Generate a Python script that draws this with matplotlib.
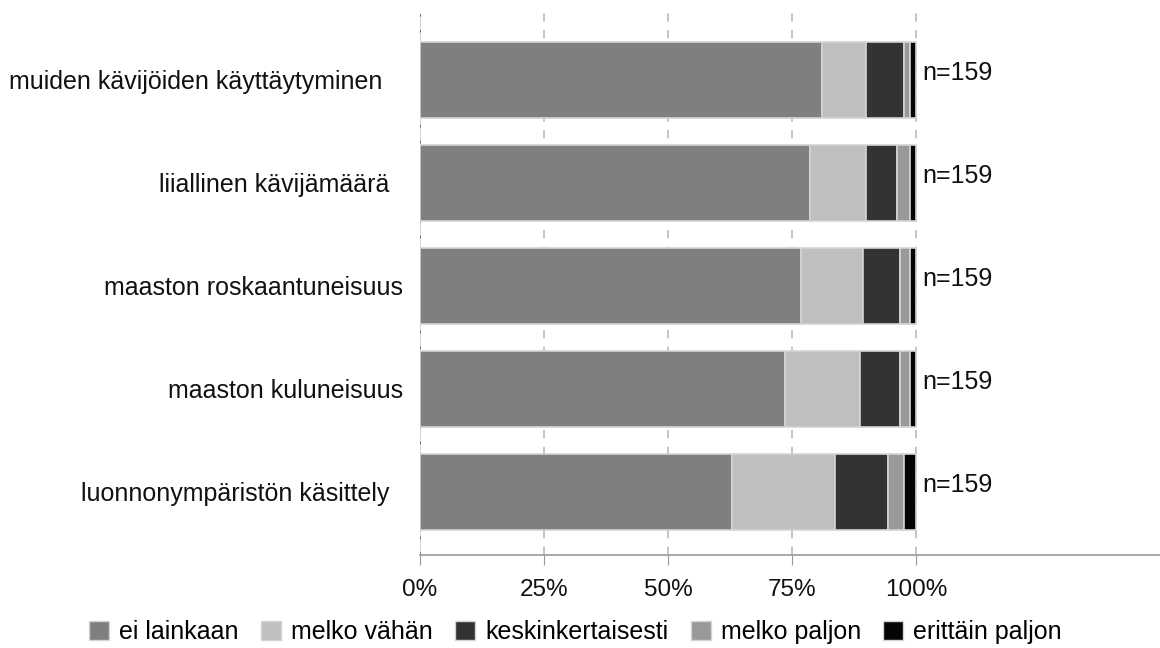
import numpy as np
import matplotlib
matplotlib.use('Agg')
import matplotlib.pyplot as plt
from matplotlib.patches import Patch

plt.rcParams['font.family'] = ['Liberation Sans', 'DejaVu Sans']

categories = ['muiden kävijöiden käyttäytyminen   ',
              'liiallinen kävijämäärä  ',
              'maaston roskaantuneisuus',
              'maaston kuluneisuus',
              'luonnonympäristön käsittely  ']
series = ['ei lainkaan', 'melko vähän', 'keskinkertaisesti', 'melko paljon', 'erittäin paljon']
colors = ['#7f7f7f', '#bfbfbf', '#333333', '#999999', '#050505']

# vastausten lukumäärät (n=159)
ei_lainkaan = [129, 125, 122, 117, 100]
melko_vahan = [14, 18, 20, 24, 33]
keskinkertaisesti = [12, 10, 12, 13, 17]
melko_paljon = [2, 4, 3, 3, 5]
erittain_paljon = [2, 2, 2, 2, 4]
n = [159, 159, 159, 159, 159]

counts = np.array([ei_lainkaan, melko_vahan, keskinkertaisesti, melko_paljon, erittain_paljon], dtype=float)
pct = counts / np.array(n) * 100

fig = plt.figure(figsize=(11.6, 6.48), dpi=100)
ax = fig.add_axes([420/1160, 93/648, 740/1160, 542/648])

y = np.arange(len(categories))
left = np.zeros(len(categories))
for i in range(len(series)):
    ax.barh(y, pct[i], left=left, height=0.74, color=colors[i],
            edgecolor='#d4d4d4', linewidth=1.2, zorder=3)
    left += pct[i]

for yi, ni in zip(y, n):
    ax.text(101.2, yi, 'n=%d' % ni, va='baseline', ha='left', fontsize=18, color='#111111')

ax.set_xlim(0, 149.2)
ax.set_ylim(4.616, -0.651)
ax.set_xticks([0, 25, 50, 75, 100])
ax.set_xticklabels(['0%', '25%', '50%', '75%', '100%'], fontsize=17.5, color='#111111')
ax.set_yticks(y)
ax.set_yticklabels(categories, fontsize=18, color='#111111')
ax.tick_params(axis='y', length=0, pad=12)
ax.tick_params(axis='x', length=7, color='#999999', pad=10)

for s in ['top', 'right', 'left']:
    ax.spines[s].set_visible(False)
ax.spines['bottom'].set_color('#999999')
ax.spines['bottom'].set_linewidth(1.2)

for xv in [25, 50, 75, 100]:
    ax.axvline(xv, color='#bbbbbb', linestyle=(0, (5, 5)), linewidth=1.2, zorder=1)
ax.axvline(0, color='#cccccc', linewidth=1.2, zorder=1)
ax.axvline(0, color='#555555', linestyle=(0, (1.5, 8)), linewidth=1.2, zorder=2)

handles = [Patch(facecolor=c, edgecolor='#d4d4d4', linewidth=1) for c in colors]
fig.legend(handles, series, loc='lower center', bbox_to_anchor=(0.496, 0.006), ncol=5,
           frameon=False, fontsize=18, handlelength=0.8, handleheight=0.8,
           handletextpad=0.4, columnspacing=0.9, borderaxespad=0, borderpad=0)

fig.savefig('out.png', dpi=100)
